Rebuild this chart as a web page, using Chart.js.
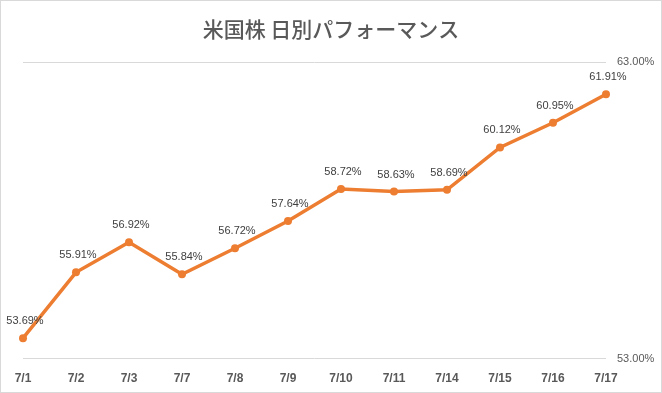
<!DOCTYPE html>
<html>
<head>
<meta charset="utf-8">
<script src="https://cdn.jsdelivr.net/npm/chart.js@4"></script>
<style>
  html, body { margin: 0; padding: 0; background: #fff; }
  #wrap { width: 660px; height: 391px; border: 1px solid #d9d9d9; position: relative; }
</style>
</head>
<body>
<div id="wrap"><canvas id="perf" width="660" height="391"></canvas></div>
<script>
const days = ['7/1', '7/2', '7/3', '7/7', '7/8', '7/9', '7/10', '7/11', '7/14', '7/15', '7/16', '7/17'];
const performance = [53.69, 55.91, 56.92, 55.84, 56.72, 57.64, 58.72, 58.63, 58.69, 60.12, 60.95, 61.91];
const yTicks = [53, 63];
const chartTitle = '米国株 日別パフォーマンス';

// title centred on the whole canvas (the built-in one follows the layout padding)
const centerTitle = {
  id: 'centerTitle',
  afterDraw(chart) {
    const ctx = chart.ctx;
    ctx.save();
    ctx.font = '500 21px "Noto Sans CJK JP", sans-serif';
    ctx.fillStyle = '#595959';
    ctx.textAlign = 'center';
    ctx.textBaseline = 'middle';
    ctx.fillText(chartTitle, chart.width / 2, 28);
    ctx.restore();
  }
};

// draws the value above each point like excel data labels
const pointLabels = {
  id: 'pointLabels',
  afterDatasetsDraw(chart) {
    const ctx = chart.ctx;
    const meta = chart.getDatasetMeta(0);
    ctx.save();
    ctx.font = '11px "Liberation Sans", Arial, sans-serif';
    ctx.fillStyle = '#404040';
    ctx.textAlign = 'center';
    ctx.textBaseline = 'middle';
    meta.data.forEach((pt, i) => {
      ctx.fillText(performance[i].toFixed(2) + '%', pt.x + 2, pt.y - 17);
    });
    ctx.restore();
  }
};

const ctx = document.getElementById('perf').getContext('2d');
new Chart(ctx, {
  type: 'line',
  data: {
    labels: days,
    datasets: [{
      data: performance,
      borderColor: '#ED7D31',
      backgroundColor: '#ED7D31',
      borderWidth: 3.5,
      pointRadius: 4,
      pointBackgroundColor: '#ED7D31',
      pointBorderWidth: 0,
      tension: 0
    }]
  },
  options: {
    responsive: false,
    animation: false,
    layout: { padding: { left: 22, right: 0, top: 61, bottom: 1 } },
    plugins: {
      legend: { display: false },
      tooltip: { enabled: false },
      title: { display: false }
    },
    scales: {
      x: {
        grid: { display: false },
        border: { display: false },
        ticks: {
          color: '#595959',
          font: { family: '"Liberation Sans", Arial, sans-serif', size: 12, weight: 'bold' },
          maxRotation: 0,
          padding: 5
        }
      },
      y: {
        position: 'right',
        min: 53,
        max: 63,
        afterBuildTicks(axis) { axis.ticks = yTicks.map(v => ({ value: v })); },
        afterFit(axis) { axis.width = 55; },
        grid: { color: '#d9d9d9', drawTicks: false },
        border: { display: false },
        ticks: {
          color: '#595959',
          font: { family: '"Liberation Sans", Arial, sans-serif', size: 11 },
          padding: 11,
          callback: v => v.toFixed(2) + '%'
        }
      }
    }
  },
  plugins: [pointLabels, centerTitle]
});
</script>
</body>
</html>
